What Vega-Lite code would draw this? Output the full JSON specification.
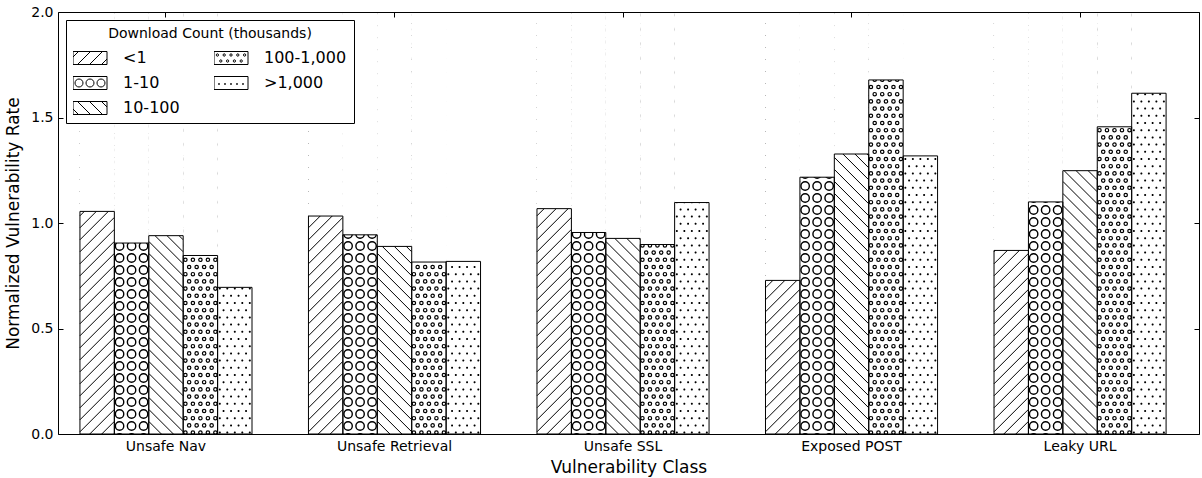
{
  "$schema": "https://vega.github.io/schema/vega-lite/v6.json",
  "width": 1141,
  "height": 422,
  "autosize": {"type": "none"},
  "padding": {"left": 58, "top": 12, "right": 3, "bottom": 44},
  "background": "white",
  "params": [
    {"name": "pA", "expr": "'M-17.2,-211.2l34.4,-34.4' + pad('', 39, 'm-34.4,46.4l34.4,-34.4')"},
    {"name": "pB", "expr": "'M-16.2,-205' + pad('', 36, pad('', 3, 'a4.2,4.2 0 1,0 8.4,0a4.2,4.2 0 1,0 -8.4,0m12,0') + 'm-36,12')"},
    {"name": "pC", "expr": "'M-17.2,-245.6l34.4,34.4' + pad('', 39, 'm-34.4,-22.4l34.4,34.4')"},
    {"name": "pD", "expr": "'M-16.7,-208' + pad('', 30, pad('', 5, 'a1.7,1.7 0 1,0 3.4,0a1.7,1.7 0 1,0 -3.4,0m7.5,0') + 'm-33.75,7.2' + pad('', 4, 'a1.7,1.7 0 1,0 3.4,0a1.7,1.7 0 1,0 -3.4,0m7.5,0') + 'm-33.75,7.2')"},
    {"name": "pE", "expr": "'M-16,-208' + pad('', 30, pad('', 5, 'a1,1 0 1,0 2,0a1,1 0 1,0 -2,0m7.5,0') + 'm-33.75,7.2' + pad('', 4, 'a1,1 0 1,0 2,0a1,1 0 1,0 -2,0m7.5,0') + 'm-33.75,7.2')"}
  ],
  "data": {
    "values": [
      {"cls": "Unsafe Nav", "series": "<1", "value": 1.055},
      {"cls": "Unsafe Nav", "series": "1-10", "value": 0.905},
      {"cls": "Unsafe Nav", "series": "10-100", "value": 0.94},
      {"cls": "Unsafe Nav", "series": "100-1,000", "value": 0.846},
      {"cls": "Unsafe Nav", "series": ">1,000", "value": 0.695},
      {"cls": "Unsafe Retrieval", "series": "<1", "value": 1.033},
      {"cls": "Unsafe Retrieval", "series": "1-10", "value": 0.944},
      {"cls": "Unsafe Retrieval", "series": "10-100", "value": 0.889},
      {"cls": "Unsafe Retrieval", "series": "100-1,000", "value": 0.815},
      {"cls": "Unsafe Retrieval", "series": ">1,000", "value": 0.818},
      {"cls": "Unsafe SSL", "series": "<1", "value": 1.068},
      {"cls": "Unsafe SSL", "series": "1-10", "value": 0.955},
      {"cls": "Unsafe SSL", "series": "10-100", "value": 0.927},
      {"cls": "Unsafe SSL", "series": "100-1,000", "value": 0.898},
      {"cls": "Unsafe SSL", "series": ">1,000", "value": 1.097},
      {"cls": "Exposed POST", "series": "<1", "value": 0.728},
      {"cls": "Exposed POST", "series": "1-10", "value": 1.217},
      {"cls": "Exposed POST", "series": "10-100", "value": 1.327},
      {"cls": "Exposed POST", "series": "100-1,000", "value": 1.678},
      {"cls": "Exposed POST", "series": ">1,000", "value": 1.318},
      {"cls": "Leaky URL", "series": "<1", "value": 0.87},
      {"cls": "Leaky URL", "series": "1-10", "value": 1.1},
      {"cls": "Leaky URL", "series": "10-100", "value": 1.248},
      {"cls": "Leaky URL", "series": "100-1,000", "value": 1.456},
      {"cls": "Leaky URL", "series": ">1,000", "value": 1.615}
    ]
  },
  "resolve": {"axis": {"x": "independent", "y": "independent"}},
  "encoding": {
    "x": {"field": "cls", "type": "nominal", "sort": ["Unsafe Nav", "Unsafe Retrieval", "Unsafe SSL", "Exposed POST", "Leaky URL"], "scale": {"paddingInner": 0.247, "paddingOuter": 0.12, "align": 0.4}, "axis": null},
    "xOffset": {"field": "series", "type": "nominal", "sort": ["<1", "1-10", "10-100", "100-1,000", ">1,000"]}
  },
  "layer": [
    {
      "transform": [{"filter": "datum.series === '<1'"}],
      "mark": {"type": "point", "shape": {"expr": "pA"}, "size": 4, "filled": false, "stroke": "black", "strokeWidth": 1, "opacity": 1, "clip": true},
      "encoding": {"y": {"datum": 1, "type": "quantitative", "scale": {"domain": [0, 2]}, "axis": null}}
    },
    {
      "transform": [{"filter": "datum.series === '1-10'"}],
      "mark": {"type": "point", "shape": {"expr": "pB"}, "size": 4, "filled": false, "stroke": "black", "strokeWidth": 1.4, "opacity": 1, "clip": true},
      "encoding": {"y": {"datum": 1, "type": "quantitative", "axis": null}}
    },
    {
      "transform": [{"filter": "datum.series === '10-100'"}],
      "mark": {"type": "point", "shape": {"expr": "pC"}, "size": 4, "filled": false, "stroke": "black", "strokeWidth": 1, "opacity": 1, "clip": true},
      "encoding": {"y": {"datum": 1, "type": "quantitative", "axis": null}}
    },
    {
      "transform": [{"filter": "datum.series === '100-1,000'"}],
      "mark": {"type": "point", "shape": {"expr": "pD"}, "size": 4, "filled": false, "stroke": "black", "strokeWidth": 1.2, "opacity": 1, "clip": true},
      "encoding": {"y": {"datum": 1, "type": "quantitative", "axis": null}}
    },
    {
      "transform": [{"filter": "datum.series === '>1,000'"}],
      "mark": {"type": "point", "shape": {"expr": "pE"}, "size": 4, "filled": true, "fill": "black", "strokeWidth": 0, "opacity": 1, "clip": true},
      "encoding": {"y": {"datum": 1, "type": "quantitative", "axis": null}}
    },
    {
      "mark": {"type": "bar", "fill": "white", "strokeWidth": 0},
      "encoding": {
        "x": {"field": "cls", "type": "nominal", "sort": ["Unsafe Nav", "Unsafe Retrieval", "Unsafe SSL", "Exposed POST", "Leaky URL"], "axis": {"orient": "top", "labels": false, "title": null, "ticks": true, "tickSize": -5, "domain": true, "zindex": 2}},
        "y": {"field": "value", "type": "quantitative", "axis": {"orient": "right", "labels": false, "title": null, "values": [0, 0.5, 1, 1.5, 2], "tickSize": -5, "zindex": 2}},
        "y2": {"datum": 2}
      }
    },
    {
      "mark": {"type": "bar", "fill": "transparent", "stroke": "black", "strokeWidth": 1},
      "encoding": {
        "x": {"field": "cls", "type": "nominal", "sort": ["Unsafe Nav", "Unsafe Retrieval", "Unsafe SSL", "Exposed POST", "Leaky URL"], "axis": {"orient": "bottom", "title": "Vulnerability Class", "ticks": false, "labelPadding": 5, "titlePadding": 6, "labelAngle": 0, "zindex": 2}},
        "y": {"field": "value", "type": "quantitative", "axis": {"orient": "left", "title": "Normalized Vulnerability Rate", "values": [0, 0.5, 1, 1.5, 2], "format": ".1f", "tickSize": -5, "labelPadding": 10, "titlePadding": 8, "zindex": 2}}
      }
    },
    {
      "mark": {"type": "point", "size": 4, "filled": false, "stroke": "black", "strokeWidth": 1, "opacity": 1, "clip": true},
      "encoding": {
        "y": {"datum": 3, "type": "quantitative", "axis": null},
        "shape": {
          "field": "series",
          "type": "nominal",
          "scale": {
            "domain": ["<1", "1-10", "10-100", "100-1,000", ">1,000"],
            "range": [
              "M-17,-6.5H17V6.5H-17ZM-17,-1L-11.5,-6.5M-12.5,6.5L0.5,-6.5M-0.5,6.5L12.5,-6.5M11.5,6.5L17,1",
              "M-17,-6.5H17V6.5H-17ZM-15,0a4,4 0 1,0 8,0a4,4 0 1,0 -8,0M-4,0a4,4 0 1,0 8,0a4,4 0 1,0 -8,0M7,0a4,4 0 1,0 8,0a4,4 0 1,0 -8,0",
              "M-17,-6.5H17V6.5H-17ZM-17,1L-11.5,6.5M-12.5,-6.5L0.5,6.5M-0.5,-6.5L12.5,6.5M11.5,-6.5L17,-1",
              "M-17,-6.5H17V6.5H-17ZM-14.8,-3a1.2,1.2 0 1,0 2.4,0a1.2,1.2 0 1,0 -2.4,0M-8,-3a1.2,1.2 0 1,0 2.4,0a1.2,1.2 0 1,0 -2.4,0M-1.2,-3a1.2,1.2 0 1,0 2.4,0a1.2,1.2 0 1,0 -2.4,0M5.6,-3a1.2,1.2 0 1,0 2.4,0a1.2,1.2 0 1,0 -2.4,0M12.4,-3a1.2,1.2 0 1,0 2.4,0a1.2,1.2 0 1,0 -2.4,0M-11.4,3a1.2,1.2 0 1,0 2.4,0a1.2,1.2 0 1,0 -2.4,0M-4.6,3a1.2,1.2 0 1,0 2.4,0a1.2,1.2 0 1,0 -2.4,0M2.2,3a1.2,1.2 0 1,0 2.4,0a1.2,1.2 0 1,0 -2.4,0M9,3a1.2,1.2 0 1,0 2.4,0a1.2,1.2 0 1,0 -2.4,0",
              "M-17,-6.5H17V6.5H-17ZM-12.6,1a0.6,0.6 0 1,0 1.2,0a0.6,0.6 0 1,0 -1.2,0M-6.6,1a0.6,0.6 0 1,0 1.2,0a0.6,0.6 0 1,0 -1.2,0M-0.6,1a0.6,0.6 0 1,0 1.2,0a0.6,0.6 0 1,0 -1.2,0M5.4,1a0.6,0.6 0 1,0 1.2,0a0.6,0.6 0 1,0 -1.2,0M11.4,1a0.6,0.6 0 1,0 1.2,0a0.6,0.6 0 1,0 -1.2,0"
            ]
          },
          "legend": {
            "title": "Download Count (thousands)",
            "orient": "top-left",
            "offset": 8,
            "direction": "vertical",
            "columns": 2,
            "columnPadding": 34,
            "rowPadding": 9,
            "clipHeight": 16,
            "symbolSize": 4,
            "symbolOffset": 9,
            "labelOffset": 25,
            "padding": 7,
            "strokeColor": "black",
            "fillColor": "white",
            "titleAnchor": "middle",
            "titleFontSize": 14,
            "titleFontWeight": "normal",
            "titlePadding": 9,
            "titleLimit": 400,
            "labelFontSize": 16,
            "labelLimit": 200,
            "symbolStrokeWidth": 1,
            "symbolStrokeColor": "black",
            "symbolFillColor": "transparent"
          }
        }
      }
    }
  ],
  "config": {
    "view": {"stroke": null},
    "font": "DejaVu Sans",
    "axis": {
      "domainColor": "black",
      "domainWidth": 1,
      "tickColor": "black",
      "tickWidth": 1,
      "labelColor": "black",
      "titleColor": "black",
      "labelFont": "DejaVu Sans",
      "titleFont": "DejaVu Sans",
      "labelFontSize": 14,
      "titleFontSize": 17,
      "titleFontWeight": "normal",
      "grid": false
    },
    "legend": {
      "labelFont": "DejaVu Sans",
      "titleFont": "DejaVu Sans",
      "labelColor": "black",
      "titleColor": "black"
    }
  }
}
